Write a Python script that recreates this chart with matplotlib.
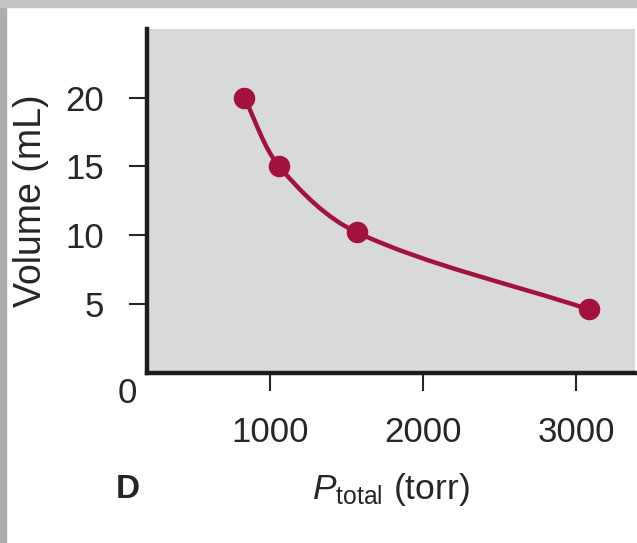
import numpy as np
import matplotlib
matplotlib.use('Agg')
import matplotlib.pyplot as plt
from matplotlib.path import Path
from matplotlib.patches import PathPatch, Rectangle

plt.rcParams['font.family'] = ['Liberation Sans', 'DejaVu Sans']
plt.rcParams['mathtext.fontset'] = 'custom'
plt.rcParams['mathtext.rm'] = 'Liberation Sans'
plt.rcParams['mathtext.it'] = 'Liberation Sans:italic'

# data
pressure = [832, 1061, 1569, 3085]   # torr
volume = [20.0, 15.0, 10.2, 4.6]     # mL
x_ticks = [1000, 2000, 3000]
y_ticks = [5, 10, 15, 20]

red = '#a3123d'
ink = '#262626'

fig = plt.figure(figsize=(6.37, 5.43), dpi=100)
fig.patch.set_facecolor('white')

# grey picture frame on the left and top
fig.patches.append(Rectangle((0, 0), 6 / 637, 1, transform=fig.transFigure,
                             color='#acacac', zorder=0))
fig.patches.append(Rectangle((0, 1 - 7 / 543), 1, 7 / 543, transform=fig.transFigure,
                             color='#c4c4c4', zorder=0))

ax = fig.add_axes([147 / 637, 1 - 372.7 / 543, 488 / 637, 343.7 / 543])
ax.set_facecolor('#d8d9db')
ax.set_xlim(196, 3386)
ax.set_ylim(0, 25)

# smooth curve through the points: chord-length Catmull-Rom as cubic Bezier,
# worked out in screen space so the uneven spacing does not kink the line
pts = ax.transData.transform(np.column_stack([pressure, volume]))
t = np.concatenate([[0], np.cumsum(np.hypot(*np.diff(pts, axis=0).T))])
tang = np.zeros_like(pts)
tang[0] = (pts[1] - pts[0]) / (t[1] - t[0])
tang[-1] = (pts[-1] - pts[-2]) / (t[-1] - t[-2])
for i in range(1, len(pts) - 1):
    tang[i] = (pts[i + 1] - pts[i - 1]) / (t[i + 1] - t[i - 1])
verts = [pts[0]]
codes = [Path.MOVETO]
for i in range(len(pts) - 1):
    h = t[i + 1] - t[i]
    verts += [pts[i] + tang[i] * h / 3, pts[i + 1] - tang[i + 1] * h / 3, pts[i + 1]]
    codes += [Path.CURVE4] * 3
verts = ax.transData.inverted().transform(np.array(verts))
ax.add_patch(PathPatch(Path(verts, codes), facecolor='none', edgecolor=red,
                       lw=3.2, capstyle='round', zorder=3))
ax.plot(pressure, volume, 'o', color=red, markersize=14.5, zorder=4)

for side in ['top', 'right']:
    ax.spines[side].set_visible(False)
for side in ['left', 'bottom']:
    ax.spines[side].set_linewidth(3.2)
    ax.spines[side].set_color('#1c1c1c')

ax.set_xticks(x_ticks)
ax.set_yticks(y_ticks)
ax.tick_params(axis='both', direction='out', length=13, width=1.5, color=ink,
               labelsize=25, labelcolor=ink)
ax.tick_params(axis='x', pad=18)
ax.tick_params(axis='y', pad=18)

ax.set_ylabel('Volume (mL)', fontsize=27, color=ink, labelpad=12)
ax.set_xlabel(r'$P_{\mathrm{total}}$ (torr)', fontsize=25.5, color=ink, labelpad=16)

ax.annotate('0', xy=(0, 0), xycoords='axes fraction', xytext=(-14, -15),
            textcoords='offset points', ha='center', va='center',
            fontsize=25, color=ink, annotation_clip=False)
fig.text(128 / 637, 1 - 490 / 543, 'D', fontsize=24, fontweight='bold',
         color=ink, ha='center', va='center')

fig.savefig('out.png', dpi=100)
